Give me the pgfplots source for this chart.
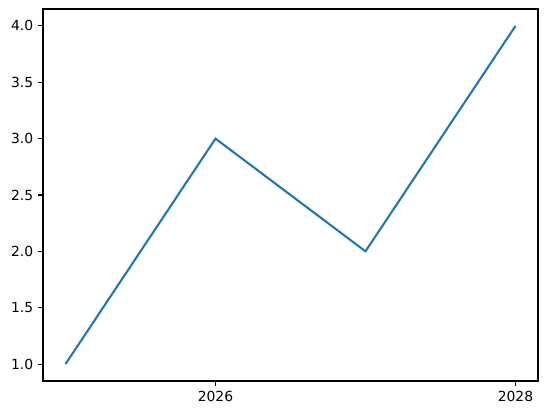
\documentclass[border=0pt]{standalone}
\usepackage{fontspec}
\setmainfont{DejaVu Sans}
\usepackage{pgfplots}
\pgfplotsset{compat=1.18}
\definecolor{mplblue}{HTML}{1F77B4}
\begin{document}
\begin{tikzpicture}
  \useasboundingbox (-30.96pt,-23.04pt) rectangle (362.88pt,274.32pt);
  \begin{axis}[
      at={(0,0)}, anchor=south west,
      scale only axis,
      width=356.4pt, height=267.84pt,
      xmin=2024.85, xmax=2028.15,
      ymin=0.85, ymax=4.15,
      xtick={2026,2028},
      ytick={1,1.5,2,2.5,3,3.5,4},
      tick align=outside,
      major tick length=3.5pt,
      tick style={line width=0.8pt, black},
      axis line style={line width=0.8pt},
      every tick label/.append style={font=\fontsize{10}{12}\selectfont},
      /pgf/number format/assume math mode=true,
      xticklabel style={/pgf/number format/1000 sep={}},
      yticklabel style={/pgf/number format/fixed, /pgf/number format/fixed zerofill, /pgf/number format/precision=1},
      xtick pos=bottom, ytick pos=left,
    ]
    \addplot[mplblue, line width=1.5pt] coordinates {
      (2025,1) (2026,3) (2027,2) (2028,4)
    };
  \end{axis}
\end{tikzpicture}
\end{document}
